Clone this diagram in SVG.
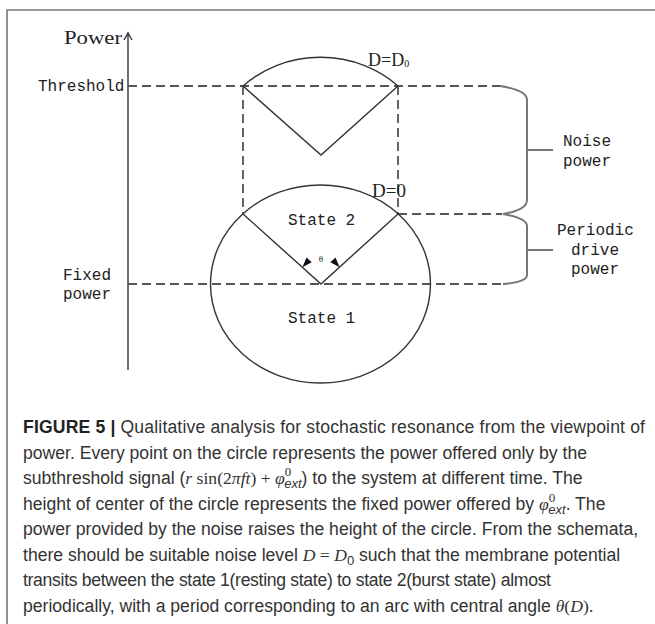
<svg xmlns="http://www.w3.org/2000/svg" width="655" height="624" viewBox="0 0 655 624">
<style>
.mono{font-family:"Liberation Mono","DejaVu Sans Mono",monospace;font-size:16px;fill:#222}
.serif{font-family:"Liberation Serif","DejaVu Serif",serif;fill:#222}
.solid{fill:none;stroke:#333;stroke-width:1.4}
.dash{fill:none;stroke:#555;stroke-width:1.8;stroke-dasharray:9 5}
.brace{fill:none;stroke:#777;stroke-width:2}
.cap{font-family:"Liberation Sans",Arial,sans-serif;font-size:17.6px;fill:#333}
.m{font-family:"Liberation Serif","DejaVu Serif",serif}
.i{font-style:italic}
</style>
<rect width="655" height="624" fill="#fff"/>
<g id="frame"><path d="M7,624 V10 H655" fill="none" stroke="#777" stroke-width="1.6"/></g>

<g id="axis">
<line x1="128" y1="33" x2="128" y2="370" class="solid" stroke-width="1.6"/>
<path d="M124,40 L128,33 L132,40" class="solid" stroke-width="1.3"/>
<text x="64" y="44" class="serif" font-size="19" textLength="58" lengthAdjust="spacingAndGlyphs">Power</text>
</g>

<g id="threshold-label"><text x="38" y="91" class="mono">Threshold</text></g>
<g id="fixed-power-label"><text x="63" y="280" class="mono">Fixed</text><text x="63" y="299" class="mono">power</text></g>

<g id="connectors">
<line x1="128" y1="86" x2="500" y2="86" class="dash"/>
<line x1="128" y1="284" x2="502" y2="284" class="dash"/>
<line x1="398" y1="214" x2="502" y2="214" class="dash"/>
<line x1="243" y1="86" x2="243" y2="214" class="dash"/>
<line x1="398" y1="86" x2="398" y2="214" class="dash"/>
<path d="M500,86 Q527,90 527,100 V200 Q527,210 503,214 Q527,218 527,226 V275 Q527,282 503,284" class="brace"/>
<line x1="527" y1="150" x2="553" y2="150" class="brace" stroke-width="1.6"/>
<line x1="527" y1="250" x2="553" y2="250" class="brace" stroke-width="1.6"/>
</g>

<g id="upper-arc">
<path d="M243,86 A110,99 0 0,1 398,86" class="solid"/>
<path d="M243,86 L321,155 L398,86" class="solid"/>
<text x="368" y="66" class="serif" font-size="18">D=D<tspan font-size="10" dy="1">0</tspan></text>
</g>

<g id="circle">
<ellipse cx="320.5" cy="284" rx="110" ry="99" class="solid"/>
<path d="M243,214 L321,284 L398,214" class="solid"/>
<text x="372" y="197" class="serif" font-size="18" textLength="34" lengthAdjust="spacingAndGlyphs">D=0</text>
<text x="288" y="225" class="mono">State 2</text>
<text x="288" y="323" class="mono">State 1</text>
<text x="321" y="262" class="serif" font-size="9" text-anchor="middle">θ</text>
<polygon points="302.4,267.3 306.5,257.6 311.7,262.2" fill="#111"/>
<polygon points="339.6,267.3 335.5,257.6 330.3,262.2" fill="#111"/>
</g>

<g id="noise-label"><text x="563" y="146" class="mono">Noise</text><text x="563" y="166" class="mono">power</text></g>
<g id="periodic-label"><text x="557" y="235" class="mono">Periodic</text><text x="571" y="255" class="mono">drive</text><text x="571" y="274" class="mono">power</text></g>

<g id="caption" class="cap">
<text x="23" y="433" textLength="622" lengthAdjust="spacing"><tspan font-weight="bold" fill="#222">FIGURE 5 |</tspan> Qualitative analysis for stochastic resonance from the viewpoint of</text>
<text x="23" y="459">power. Every point on the circle represents the power offered only by the</text>
<text x="23" y="484">subthreshold signal (<tspan class="m i">r</tspan><tspan class="m"> sin(2</tspan><tspan class="m i">πft</tspan><tspan class="m">) + </tspan><tspan class="m i">φ</tspan><tspan class="m" font-size="13" dy="-8">0</tspan><tspan class="i" font-size="13" dx="-7" dy="12">ext</tspan><tspan dy="-4">) to the system at different time. The</tspan></text>
<text x="23" y="510">height of center of the circle represents the fixed power offered by <tspan class="m i">φ</tspan><tspan class="m" font-size="13" dy="-8">0</tspan><tspan class="i" font-size="13" dx="-7" dy="12">ext</tspan><tspan dy="-4">. The</tspan></text>
<text x="23" y="535">power provided by the noise raises the height of the circle. From the schemata,</text>
<text x="23" y="561">there should be suitable noise level <tspan class="m i">D</tspan><tspan class="m"> = </tspan><tspan class="m i">D</tspan><tspan font-size="13" dy="4">0</tspan><tspan dy="-4"> such that the membrane potential</tspan></text>
<text x="23" y="586" textLength="528" lengthAdjust="spacing">transits between the state 1(resting state) to state 2(burst state) almost</text>
<text x="23" y="612">periodically, with a period corresponding to an arc with central angle <tspan class="m i">θ</tspan><tspan class="m">(</tspan><tspan class="m i">D</tspan><tspan class="m">)</tspan>.</text>
</g>
</svg>
